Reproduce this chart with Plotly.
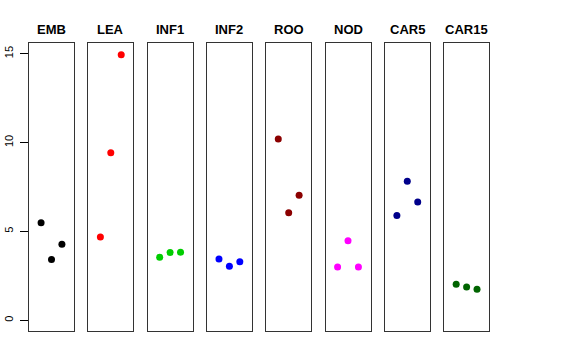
import plotly.graph_objects as go

tissues = ["EMB", "LEA", "INF1", "INF2", "ROO", "NOD", "CAR5", "CAR15"]
reps = [1, 2, 3]
emb = [5.49, 3.42, 4.28]
lea = [4.69, 9.42, 14.94]
inf1 = [3.55, 3.81, 3.83]
inf2 = [3.45, 3.04, 3.29]
roo = [10.2, 6.05, 7.04]
nod = [3.0, 4.48, 3.0]
car5 = [5.9, 7.83, 6.65]
car15 = [2.03, 1.88, 1.75]
values = [emb, lea, inf1, inf2, roo, nod, car5, car15]
colors = ["#000000", "#FF0000", "#00CD00", "#0000FF", "#8B0000", "#FF00FF", "#00008B", "#006400"]
y_ticks = [0, 5, 10, 15]

W, H = 576, 360
fig = go.Figure()
left0, step, pw = 29.0, 59.3, 45.0
top, bottom = 43.0, 331.0
ydom = [1 - bottom / H, 1 - top / H]

for i, (name, vals, col) in enumerate(zip(tissues, values, colors)):
    n = i + 1
    xa = "x" if n == 1 else f"x{n}"
    ya = "y" if n == 1 else f"y{n}"
    fig.add_trace(go.Scatter(x=reps, y=vals, mode="markers",
                             marker=dict(color=col, size=7),
                             xaxis=xa, yaxis=ya, showlegend=False,
                             hoverinfo="skip"))
    l = left0 + step * i
    xd = [l / W, (l + pw) / W]
    xkey = "xaxis" if n == 1 else f"xaxis{n}"
    ykey = "yaxis" if n == 1 else f"yaxis{n}"
    fig.layout[xkey] = dict(domain=xd, range=[-0.16, 4.16], showgrid=False,
                            zeroline=False, showticklabels=False, ticks="",
                            showline=True, mirror=True, linecolor="#333333",
                            linewidth=1, anchor=ya, fixedrange=True,
                            automargin=False)
    yd = dict(domain=ydom, range=[-0.6, 15.6], showgrid=False, zeroline=False,
              showline=True, mirror=True, linecolor="#333333", linewidth=1,
              anchor=xa, fixedrange=True, automargin=False)
    if n == 1:
        yd.update(tickvals=y_ticks, ticktext=[str(t) for t in y_ticks],
                  ticks="outside", ticklen=8, tickcolor="#000000",
                  tickangle=-90, ticklabelstandoff=3,
                  tickfont=dict(family="Liberation Sans, Arial", size=11,
                                color="#000000"))
    else:
        yd.update(showticklabels=False, ticks="")
    fig.layout[ykey] = yd
    fig.add_annotation(text=f"<b>{name}</b>", x=(l + pw / 2) / W,
                       y=1 - 29.5 / H,
                       xref="paper", yref="paper", showarrow=False,
                       xanchor="center", yanchor="middle",
                       font=dict(family="Liberation Sans, Arial", size=13,
                                 color="#000000"))

fig.update_layout(width=W, height=H, margin=dict(l=0, r=0, t=0, b=0),
                  paper_bgcolor="white", plot_bgcolor="white")
fig.write_html("out.html", config={"displayModeBar": False},
               post_script="document.body.style.margin='0';document.body.style.overflow='hidden';")
